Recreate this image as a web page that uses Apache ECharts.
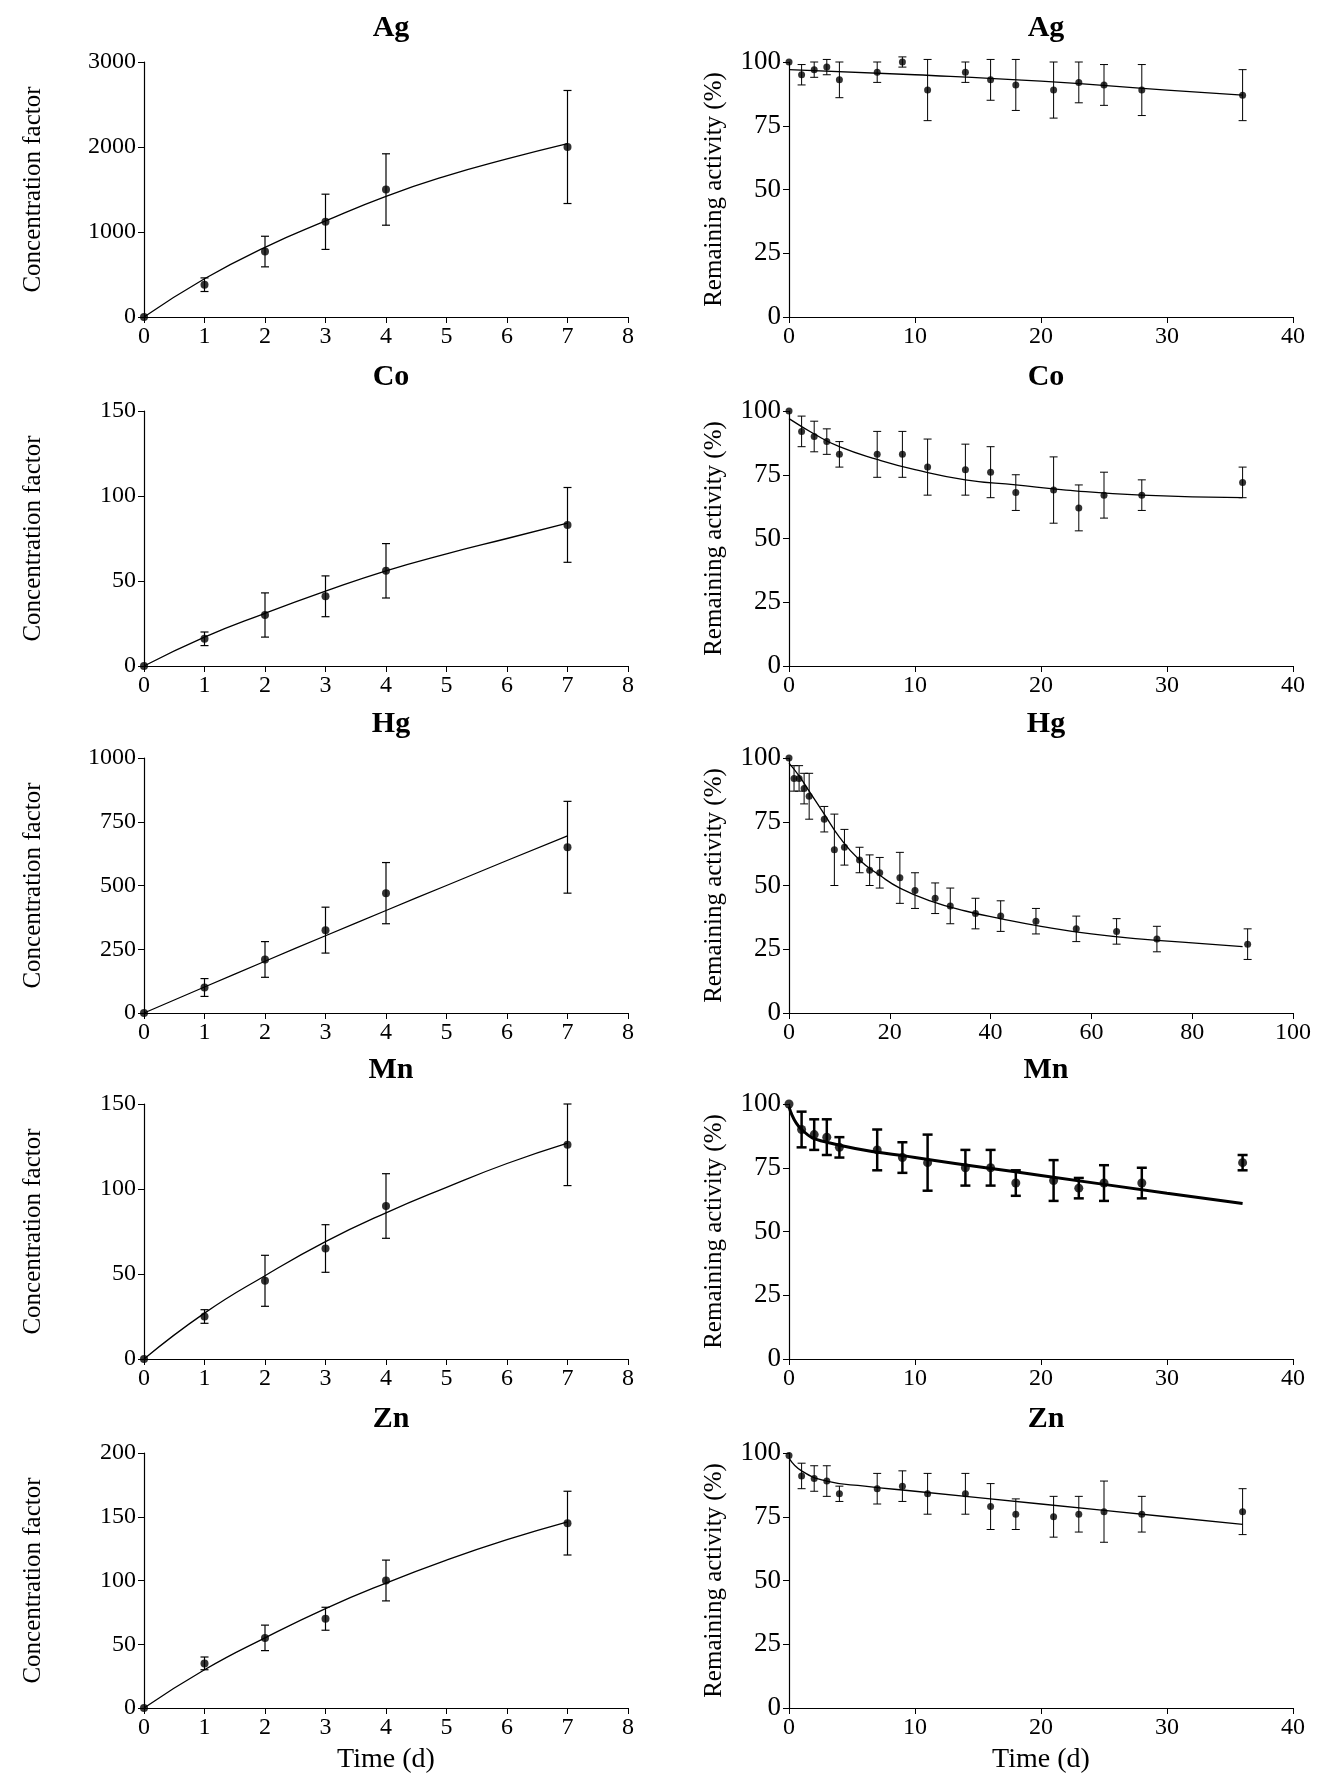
<!DOCTYPE html>
<html><head><meta charset="utf-8">
<script src="https://cdn.jsdelivr.net/npm/echarts@6/dist/echarts.min.js"></script>
<style>html,body{margin:0;background:#fff}#c{width:1324px;height:1780px}</style>
</head><body><div id="c"></div>
<script>
const elements = ['Ag','Co','Hg','Mn','Zn'];
// Left: concentration factor
const cfX = [0,1,2,3,4,7];
const cfY = {Ag:[0,380,770,1120,1500,2000], Co:[0,16,30,41,56,83], Hg:[0,100,210,325,470,650], Mn:[0,25,46,65,90,126], Zn:[0,35,55,70,100,145]};
const cfErr = {Ag:[0,80,180,325,420,665], Co:[0,4,13,12,16,22], Hg:[0,35,70,90,120,180], Mn:[0,4,15,14,19,24], Zn:[0,5,10,9,16,25]};
const cfFitX = [0,1,2,3,4,5,6,7];
const cfFitY = {Ag:[0,450,820,1130,1420,1660,1860,2040], Co:[0,17,31,44,56,66,75,84], Hg:[0,102,203,303,402,500,598,695], Mn:[0,27,49,69,86,101,115,127], Zn:[0,30,55,78,98,116,132,146]};
const cfMax = {Ag:3000, Co:150, Hg:1000, Mn:150, Zn:200};
const cfInt = {Ag:1000, Co:50, Hg:250, Mn:50, Zn:50};
// Right: remaining activity
const raX16 = [0,1,2,3,4,7,9,11,14,16,18,21,23,25,28,36];
const raXHg = [0,1,2,3,4,7,9,11,14,16,18,22,25,29,32,37,42,49,57,65,73,91];
const raY = {
 Ag:[100,95,97,98,93,96,100,89,96,93,91,89,92,91,89,87],
 Co:[100,92,90,88,83,83,83,78,77,76,68,69,62,67,67,72],
 Hg:[100,92,92,88,85,76,64,65,60,56,55,53,48,45,42,39,38,36,33,32,29,27],
 Mn:[100,90,88,87,83,82,79,77,75,75,69,70,67,69,69,77],
 Zn:[99,91,90,89,84,86,87,84,84,79,76,75,76,77,76,77]};
const raErr = {
 Ag:[0,4,3,3,7,4,2,12,4,8,10,11,8,8,10,10],
 Co:[0,6,6,5,5,9,9,11,10,10,7,13,9,9,6,6],
 Hg:[0,5,5,6,9,5,14,7,5,6,6,10,7,6,7,6,6,5,5,5,5,6],
 Mn:[0,7,6,7,4,8,6,11,7,7,5,8,4,7,6,3],
 Zn:[0,5,5,6,3,6,6,8,8,9,6,8,7,12,7,9]};
const raFit = {
 Ag:[[0,97],[10,95],[20,92.5],[30,89],[36,87]],
 Co:[[0,97],[2,91],[4,86],[7,81],[10,77],[14,73],[18,71],[22,69],[28,67],[36,66]],
 Hg:[[0,98],[2,93],[4,87],[7,78],[10,69],[14,60],[18,54],[22,49],[28,44],[35,40],[42,37],[50,34],[60,31],[70,29],[80,27.5],[90,26]],
 Mn:[[0,99],[1,90],[3,85],[10,79],[20,72],[30,65],[36,61]],
 Zn:[[0,98],[1,93],[3,89],[6,87],[10,85],[20,80],[30,75],[36,72]]};

const F = 'Liberation Serif';
const tops = [62,411,758,1104,1453];
const H = 255;
const grid=[], xAxis=[], yAxis=[], series=[], title=[];
function errSeries(idx, xs, ys, es, lw, cap){
  return {type:'custom', xAxisIndex:idx, yAxisIndex:idx, silent:true, z:3,
    data: xs.map((x,i)=>[x,ys[i],es[i]]),
    renderItem:(p,api)=>{
      const x=api.value(0), y=api.value(1), e=api.value(2);
      if(!e) return null;
      const a=api.coord([x,y+e]), b=api.coord([x,y-e]);
      const st={stroke:'#000',lineWidth:lw};
      return {type:'group',children:[
        {type:'line',shape:{x1:a[0],y1:a[1],x2:b[0],y2:b[1]},style:st},
        {type:'line',shape:{x1:a[0]-cap,y1:a[1],x2:a[0]+cap,y2:a[1]},style:st},
        {type:'line',shape:{x1:b[0]-cap,y1:b[1],x2:b[0]+cap,y2:b[1]},style:st}]};
    }};
}
const axLine={lineStyle:{color:'#000',width:1.2}};
elements.forEach((el,r)=>{
  const top=tops[r];
  [0,1].forEach(side=>{
    const idx=r*2+side;
    const left = side? 789:144, width = side? 504:484;
    grid.push({left, top, width, height:H});
    title.push({text:el, left: left+width/2, top: top-54, textAlign:'center', textStyle:{fontFamily:F,fontSize:30,fontWeight:'bold',color:'#000'}});
    const xmax = side ? (el==='Hg'?100:40) : 8;
    const xint = side ? (el==='Hg'?20:10) : 1;
    xAxis.push({gridIndex:idx, type:'value', min:0, max:xmax, interval:xint, splitLine:{show:false},
      axisLine:axLine, axisTick:{lineStyle:{color:'#000'},length:6}, axisLabel:{fontFamily:F,fontSize:24,color:'#000',margin:8},
      name: r===4?'Time (d)':'', nameLocation:'middle', nameGap:38, nameTextStyle:{fontFamily:F,fontSize:28,color:'#000'}});
    yAxis.push({gridIndex:idx, type:'value', min:0, max: side?100:cfMax[el], interval: side?25:cfInt[el], splitLine:{show:false},
      axisLine:{show:true,...axLine}, axisTick:{show:true,lineStyle:{color:'#000'},length:6},
      axisLabel:{fontFamily:F,fontSize: side?27:24,color:'#000',formatter:v=>String(v)},
      name: side?'Remaining activity (%)':'Concentration factor', nameLocation:'middle', nameGap: side?62:98,
      nameTextStyle:{fontFamily:F,fontSize:25,color:'#000'}});
    const thick = side && el==='Mn';
    if(side){
      const xs = el==='Hg'?raXHg:raX16;
      series.push({type:'line',xAxisIndex:idx,yAxisIndex:idx,data:raFit[el],smooth:true,showSymbol:false,lineStyle:{color:'#000',width:thick?3:1.3},z:2});
      series.push(errSeries(idx,xs,raY[el],raErr[el],thick?2.5:1,thick?5:4));
      series.push({type:'scatter',xAxisIndex:idx,yAxisIndex:idx,data:xs.map((x,i)=>[x,raY[el][i]]),symbolSize:thick?9:7,itemStyle:{color:'#000'},z:4});
    } else {
      series.push({type:'line',xAxisIndex:idx,yAxisIndex:idx,data:cfFitX.map((x,i)=>[x,cfFitY[el][i]]),smooth:true,showSymbol:false,lineStyle:{color:'#000',width:1.3},z:2});
      series.push(errSeries(idx,cfX,cfY[el],cfErr[el],1.2,4));
      series.push({type:'scatter',xAxisIndex:idx,yAxisIndex:idx,data:cfX.map((x,i)=>[x,cfY[el][i]]),symbolSize:8,itemStyle:{color:'#000'},z:4});
    }
  });
});
const chart = echarts.init(document.getElementById('c'));
chart.setOption({animation:false, backgroundColor:'#fff', title, grid, xAxis, yAxis, series});
</script></body></html>
